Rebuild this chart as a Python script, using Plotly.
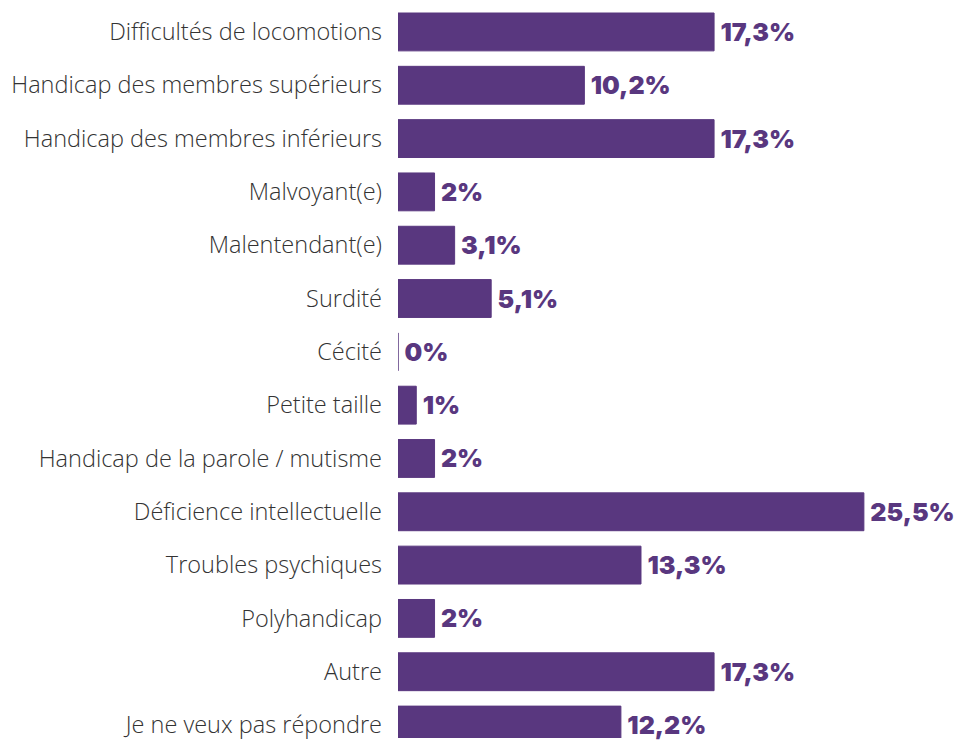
import plotly.graph_objects as go

categories = [
    "Difficultés de locomotions",
    "Handicap des membres supérieurs",
    "Handicap des membres inférieurs",
    "Malvoyant(e)",
    "Malentendant(e)",
    "Surdité",
    "Cécité",
    "Petite taille",
    "Handicap de la parole / mutisme",
    "Déficience intellectuelle",
    "Troubles psychiques",
    "Polyhandicap",
    "Autre",
    "Je ne veux pas répondre",
]
values = [17.3, 10.2, 17.3, 2, 3.1, 5.1, 0, 1, 2, 25.5, 13.3, 2, 17.3, 12.2]
value_labels = ["17,3%", "10,2%", "17,3%", "2%", "3,1%", "5,1%", "0%", "1%", "2%",
                "25,5%", "13,3%", "2%", "17,3%", "12,2%"]

purple = "#59377f"

fig = go.Figure(go.Bar(
    x=values,
    y=categories,
    orientation="h",
    marker=dict(color=purple, line=dict(color=purple, width=1)),
    width=0.71,
    text=["\u2009" + t for t in value_labels],
    textposition="outside",
    cliponaxis=False,
    hoverinfo="none",
    textfont=dict(family="Inter", size=25, color=purple, weight=900),
))

fig.update_layout(
    width=962, height=740,
    margin=dict(l=398, r=0, t=0, b=0),
    paper_bgcolor="white", plot_bgcolor="white",
    showlegend=False,
    xaxis=dict(range=[0, 30.87], visible=False, showgrid=False, zeroline=False),
    yaxis=dict(
        range=[13.243, -0.599],
        showgrid=False, zeroline=False, showline=False, ticks="",
        ticklabelstandoff=15,
        tickfont=dict(family="Open Sans", size=23.5, color="#333333", weight=300),
    ),
)

fig.write_html(
    "out.html",
    config={"displayModeBar": False},
    post_script="document.body.style.margin='0';document.body.style.overflow='hidden';",
)
